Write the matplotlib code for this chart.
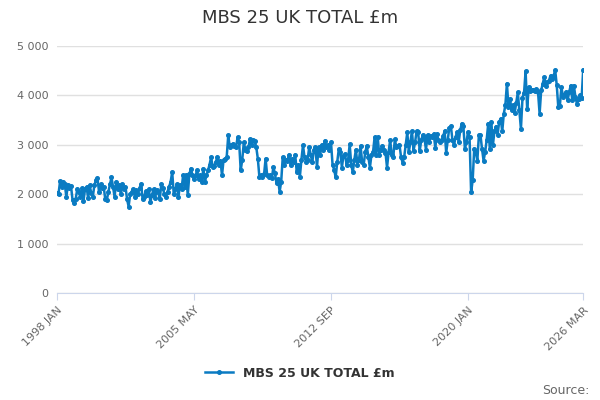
import matplotlib
matplotlib.use("Agg")
import matplotlib.pyplot as plt
from matplotlib.ticker import FuncFormatter

title = "MBS 25 UK TOTAL £m"
series_name = "MBS 25 UK TOTAL £m"
start_year = 1998

v1998 = [2030, 2010, 2270, 2150, 2250, 2200, 1950, 2180, 2120, 2160, 1880, 1830]
v1999 = [1900, 2100, 2050, 1950, 2120, 1860, 2100, 2150, 1920, 2180, 2020, 1950]
v2000 = [2180, 2280, 2320, 2050, 2200, 2120, 2150, 1900, 1880, 2050, 2200, 2340]
v2001 = [2150, 1950, 2250, 2100, 2180, 2000, 2200, 2100, 2150, 1900, 1750, 2000]
v2002 = [2050, 2100, 1950, 2080, 2000, 2120, 2210, 1900, 1950, 2060, 1980, 2100]
v2003 = [1850, 1980, 2100, 1920, 2080, 2050, 1900, 2200, 2120, 2000, 1950, 2050]
v2004 = [2150, 2250, 2450, 2000, 2100, 2200, 1950, 2180, 2100, 2380, 2150, 2380]
v2005 = [1980, 2400, 2520, 2380, 2300, 2380, 2480, 2300, 2380, 2250, 2520, 2250]
v2006 = [2380, 2480, 2600, 2750, 2550, 2580, 2650, 2750, 2600, 2680, 2380, 2700]
v2007 = [2720, 2750, 3190, 2950, 3000, 3020, 2980, 2950, 3150, 3050, 2480, 2700]
v2008 = [3050, 2900, 2880, 2950, 3120, 3000, 3100, 3080, 2950, 2720, 2350, 2380]
v2009 = [2350, 2400, 2720, 2380, 2350, 2380, 2320, 2550, 2420, 2220, 2300, 2050]
v2010 = [2250, 2750, 2600, 2700, 2680, 2800, 2600, 2720, 2650, 2800, 2450, 2600]
v2011 = [2350, 2700, 2990, 2750, 2650, 2700, 2950, 2800, 2650, 2900, 2950, 2550]
v2012 = [2950, 2800, 3000, 2900, 3080, 2950, 3000, 2900, 3050, 2600, 2500, 2340]
v2013 = [2650, 2910, 2850, 2540, 2780, 2810, 2600, 2700, 3010, 2600, 2440, 2700]
v2014 = [2900, 2600, 2700, 2980, 2650, 2600, 2850, 2980, 2750, 2540, 2800, 2850]
v2015 = [3150, 2800, 3150, 2800, 2900, 2980, 2900, 2840, 2540, 2850, 3100, 2800]
v2016 = [2750, 3110, 2950, 2980, 3000, 2750, 2640, 2750, 3000, 3250, 2860, 3050]
v2017 = [3280, 2880, 3050, 3280, 3250, 2880, 3100, 3200, 3150, 2900, 3200, 3050]
v2018 = [3170, 3150, 3220, 2940, 3220, 3100, 3050, 3100, 3170, 3280, 2840, 3100]
v2019 = [3350, 3380, 3100, 2990, 3150, 3260, 3050, 3290, 3430, 3390, 2920, 3050]
v2020 = [3260, 3150, 2040, 2280, 2920, 2850, 2680, 3190, 3200, 2920, 2680, 2850]
v2021 = [3100, 3430, 2920, 3460, 3000, 3270, 3370, 3200, 3460, 3530, 3270, 3630]
v2022 = [3800, 4240, 3760, 3930, 3700, 3800, 3650, 3850, 4060, 3700, 3320, 3950]
v2023 = [4050, 4490, 3730, 4170, 4080, 4100, 4100, 4080, 4120, 4060, 3630, 4100]
v2024 = [4240, 4370, 4200, 4280, 4300, 4400, 4330, 4400, 4510, 4210, 3760, 3790]
v2025 = [4170, 3970, 4030, 4070, 3900, 4070, 4200, 3900, 4200, 3970, 3830, 3930]
v2026 = [4000, 3950, 4520]

values = (v1998 + v1999 + v2000 + v2001 + v2002 + v2003 + v2004 + v2005 + v2006
          + v2007 + v2008 + v2009 + v2010 + v2011 + v2012 + v2013 + v2014 + v2015
          + v2016 + v2017 + v2018 + v2019 + v2020 + v2021 + v2022 + v2023 + v2024
          + v2025 + v2026)

tick_labels = ["1998 JAN", "2005 MAY", "2012 SEP", "2020 JAN", "2026 MAR"]
tick_months = [0, 88, 176, 264, 338]
y_ticks = [0, 1000, 2000, 3000, 4000, 5000]

color = "#0a7bc2"

fig = plt.figure(figsize=(6, 4), dpi=100)
ax = fig.add_axes([0.095, 0.2675, 0.877, 0.6175])
x = list(range(len(values)))
line, = ax.plot(x, values, color=color, linewidth=1.8, marker="o", markersize=2.6,
                label=series_name)

ax.set_xlim(0, len(values) - 1)
ax.set_ylim(0, 5000)
ax.set_yticks(y_ticks)
ax.yaxis.set_major_formatter(FuncFormatter(lambda v, p: f"{int(v):,}".replace(",", " ")))
ax.set_xticks(tick_months)
ax.set_xticklabels(tick_labels, rotation=45, ha="right", rotation_mode="anchor")
ax.grid(axis="y", color="#e0e0e0", linewidth=1)
ax.set_axisbelow(True)
for s in ["top", "right", "left"]:
    ax.spines[s].set_visible(False)
ax.spines["bottom"].set_color("#ccd6eb")
ax.tick_params(axis="y", length=0, labelsize=8, colors="#666666", pad=6)
ax.tick_params(axis="x", length=5, color="#ccd6eb", labelsize=8, colors="#666666")

fig.text(0.5, 0.955, title, ha="center", va="center", fontsize=13, color="#333333")
leg = fig.legend(handles=[line], loc="center", bbox_to_anchor=(0.5, 0.067),
                 frameon=False, fontsize=9, handlelength=2.2)
for t in leg.get_texts():
    t.set_fontweight("bold")
    t.set_color("#333333")
fig.text(0.982, 0.025, "Source:", ha="right", va="center", fontsize=9, color="#666666")

fig.savefig("out.png", dpi=100)
